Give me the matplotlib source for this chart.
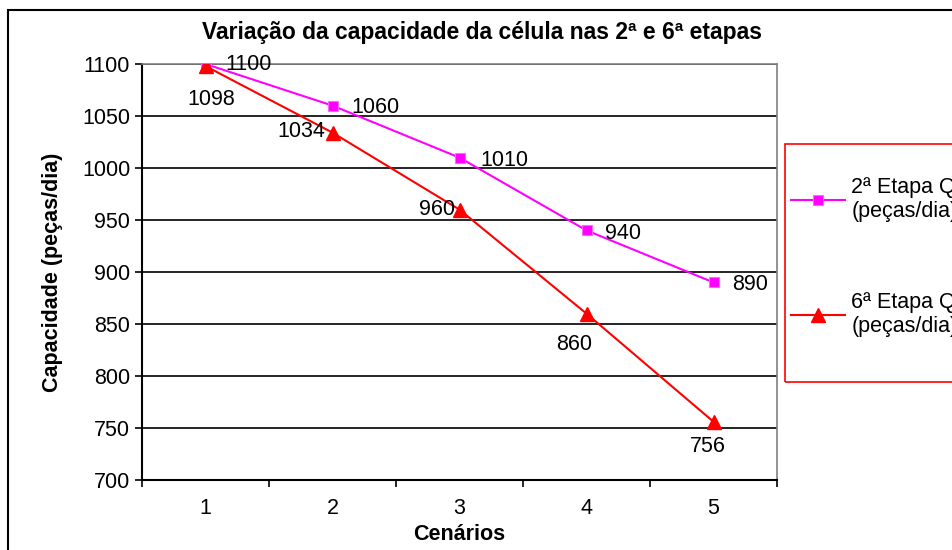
import matplotlib
matplotlib.use("Agg")
import matplotlib.pyplot as plt
from matplotlib.patches import Rectangle

plt.rcParams['font.family'] = ['Liberation Sans', 'DejaVu Sans']

# data
cenarios = [1, 2, 3, 4, 5]
etapa2 = [1100, 1060, 1010, 940, 890]
etapa6 = [1098, 1034, 960, 860, 756]
yticks = [700, 750, 800, 850, 900, 950, 1000, 1050, 1100]

# label offsets in pixels (manual placement as in the original)
off2 = [(20, -1), (19, -2), (21, -3), (19, -3), (19, -2)]
off6 = [(6, -33), (-31, 1), (-22, 0), (-12, -31), (-6, -25)]

fs = 15.5
W, H = 952, 550

fig = plt.figure(figsize=(9.52, 5.5), dpi=100)
fig.patch.set_facecolor('white')

# outer chart frame
fig.patches.append(Rectangle((8 / W, -0.1), 1.2, 1 - 10 / H + 0.1,
                             transform=fig.transFigure, fill=False,
                             edgecolor='black', linewidth=1.5))

ax = fig.add_axes([142 / W, 1 - 480 / H, (777 - 142) / W, (480 - 64) / H])
ax.set_xlim(0.5, 5.5)
ax.set_ylim(700, 1100)

for y in yticks:
    ax.axhline(y, color='black', linewidth=1.2, zorder=1)

ax.plot(cenarios, etapa2, color='#FF00FF', linewidth=1.5, marker='s',
        markersize=7.5, markerfacecolor='#FF00FF', markeredgecolor='#FF66FF',
        markeredgewidth=0.8, label='2ª Etapa Q\n(peças/dia)', zorder=3)
ax.plot(cenarios, etapa6, color='#FF0000', linewidth=1.5, marker='^',
        markersize=10, markerfacecolor='#FF0000', markeredgecolor='#FF0000',
        label='6ª Etapa Q\n(peças/dia)', zorder=3)

for x, v, (dx, dy) in zip(cenarios, etapa2, off2):
    ax.annotate(str(v), (x, v), xytext=(dx, dy), textcoords='offset pixels',
                ha='left', va='center', fontsize=fs)
for x, v, (dx, dy) in zip(cenarios, etapa6, off6):
    ax.annotate(str(v), (x, v), xytext=(dx, dy), textcoords='offset pixels',
                ha='center', va='center', fontsize=fs)

ax.set_yticks(yticks)
ax.set_xticks(cenarios)
ax.set_xticks([0.5, 1.5, 2.5, 3.5, 4.5, 5.5], minor=True)
ax.tick_params(axis='x', which='major', length=0, pad=13, labelsize=fs)
ax.tick_params(axis='x', which='minor', length=5, width=1.2, direction='out')
ax.tick_params(axis='y', length=5, width=1.2, direction='out', labelsize=fs)

for side in ['top', 'right']:
    ax.spines[side].set_color('#808080')
    ax.spines[side].set_linewidth(1.2)
for side in ['left', 'bottom']:
    ax.spines[side].set_color('black')
    ax.spines[side].set_linewidth(1.5)

fig.text(482 / W, 1 - 32 / H, 'Variação da capacidade da célula nas 2ª e 6ª etapas',
         fontsize=16.5, fontweight='bold', ha='center', va='center')
ax.set_ylabel('Capacidade (peças/dia)', fontsize=fs, fontweight='bold', labelpad=14)
fig.text(459 / W, 1 - 534 / H, 'Cenários', fontsize=fs, fontweight='bold',
         ha='center', va='center')

# legend box drawn as in the original (extends past the right edge)
fig.patches.append(Rectangle((785 / W, 1 - 382 / H), 0.3, (382 - 144) / H,
                             transform=fig.transFigure, fill=False,
                             edgecolor='#FF0000', linewidth=1.2))
leg = ax.legend(loc='upper left', bbox_to_anchor=(791 / W, 1 - 177 / H),
                bbox_transform=fig.transFigure, frameon=False,
                fontsize=fs, labelspacing=3.25, handlelength=2.5,
                handletextpad=0.3, borderpad=0, borderaxespad=0)

fig.savefig('out.png', dpi=100)
